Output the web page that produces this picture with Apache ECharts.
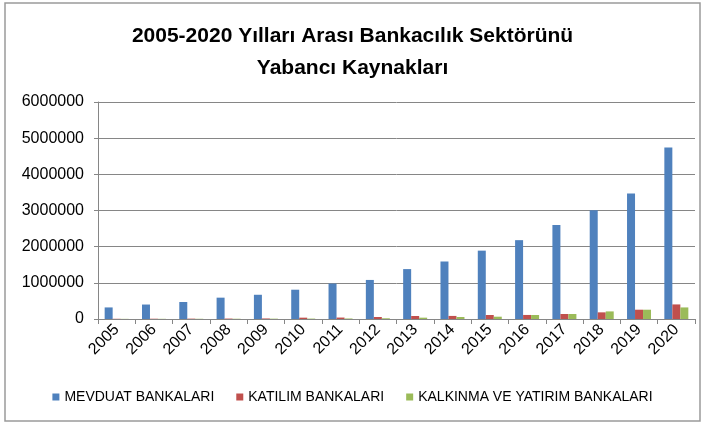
<!DOCTYPE html>
<html>
<head>
<meta charset="utf-8">
<script src="https://cdn.jsdelivr.net/npm/echarts@6/dist/echarts.min.js"></script>
<style>
  html, body { margin: 0; padding: 0; background: #fff; }
  #chart { width: 705px; height: 427px; }
</style>
</head>
<body>
<div id="chart"></div>
<script>
const years = ['2005', '2006', '2007', '2008', '2009', '2010', '2011', '2012',
  '2013', '2014', '2015', '2016', '2017', '2018', '2019', '2020']
const mevduat = [320000, 400000, 470000, 590000, 670000, 810000, 980000, 1080000,
  1380000, 1590000, 1890000, 2180000, 2600000, 3010000, 3470000, 4740000]
const katilim = [6000, 8000, 10000, 12000, 15000, 37000, 40000, 55000,
  83000, 85000, 110000, 112000, 138000, 184000, 257000, 403000]
const kalkinma = [4000, 5000, 6000, 7000, 9000, 11000, 14000, 20000,
  37000, 55000, 64000, 110000, 138000, 210000, 257000, 320000]
const seriesNames = ['MEVDUAT BANKALARI', 'KATILIM BANKALARI', 'KALKINMA VE YATIRIM BANKALARI']

const font = '"Liberation Sans", Arial, sans-serif'
const chart = echarts.init(document.getElementById('chart'))

const bar = (name, data, color) => ({
  name,
  type: 'bar',
  data,
  barWidth: 8,
  barGap: '0%',
  itemStyle: { color },
  animation: false
})

chart.setOption({
  textStyle: { fontFamily: font },
  title: {
    text: '2005-2020 Yılları Arası Bankacılık Sektörünü\nYabancı Kaynakları',
    left: 'center',
    top: 15,
    textStyle: { fontSize: 21, fontWeight: 'bold', color: '#000', lineHeight: 32, fontFamily: font }
  },
  graphic: [{
    type: 'rect',
    shape: { x: 5, y: 3, width: 695, height: 418 },
    style: { fill: 'none', stroke: '#9a9a9a', lineWidth: 1.5 },
    silent: true
  }],
  legend: {
    data: seriesNames,
    bottom: 18,
    left: 'center',
    itemWidth: 7,
    itemHeight: 7,
    itemGap: 22,
    icon: 'rect',
    textStyle: { fontSize: 14, color: '#000', fontFamily: font }
  },
  grid: { left: 98, right: 10, top: 102, bottom: 108, containLabel: false },
  xAxis: {
    type: 'category',
    data: years,
    boundaryGap: true,
    axisLine: { lineStyle: { color: '#868686' } },
    axisTick: { show: true, length: 5, alignWithLabel: false, lineStyle: { color: '#868686' } },
    axisLabel: { rotate: 45, fontSize: 16, color: '#000', margin: 8, interval: 0, fontFamily: font }
  },
  yAxis: {
    type: 'value',
    min: 0,
    max: 6000000,
    interval: 1000000,
    axisLine: { show: true, lineStyle: { color: '#868686' } },
    axisTick: { show: true, length: 4, lineStyle: { color: '#868686' } },
    splitLine: { lineStyle: { color: '#868686' } },
    axisLabel: { fontSize: 16, color: '#000', margin: 14, fontFamily: font, formatter: v => String(v) }
  },
  series: [
    bar(seriesNames[0], mevduat, '#4F81BD'),
    bar(seriesNames[1], katilim, '#C0504D'),
    bar(seriesNames[2], kalkinma, '#9BBB59')
  ]
})
</script>
</body>
</html>
